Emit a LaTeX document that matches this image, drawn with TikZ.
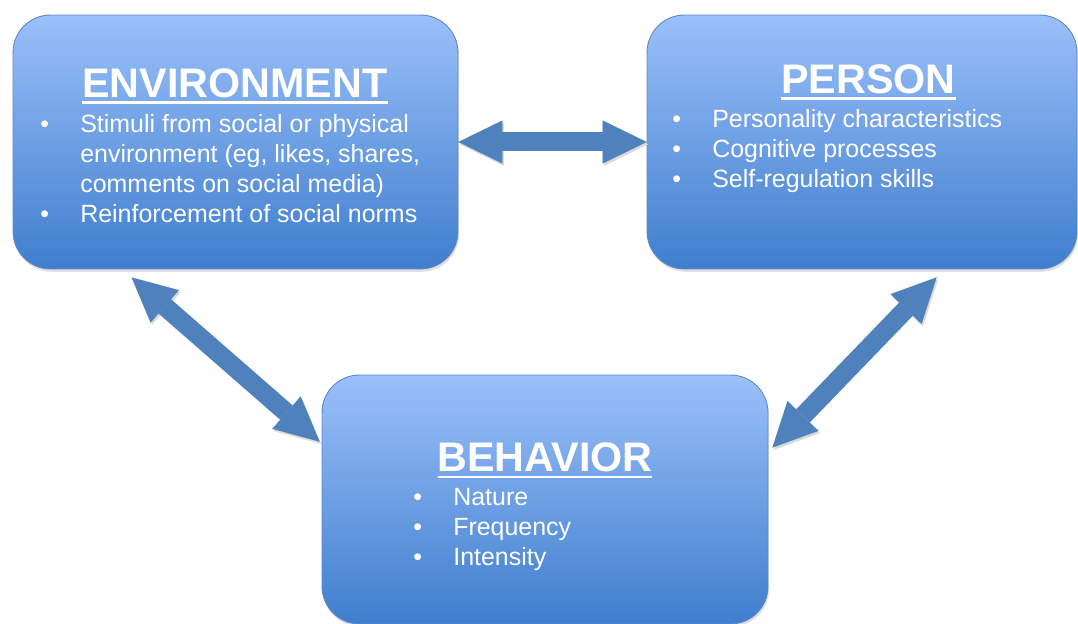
\documentclass[tikz,border=0pt]{standalone}
\usepackage{fontspec}
\setmainfont{Liberation Sans}
\usetikzlibrary{arrows.meta,shadows}

\definecolor{boxtop}{RGB}{155,192,250}
\definecolor{boxbot}{RGB}{63,126,205}
\definecolor{boxrim}{RGB}{92,136,200}
\definecolor{arrowblue}{RGB}{79,129,189}

% heading text with a thick rule under it
\newcommand\headline[1]{\setbox0\hbox{#1}\leavevmode\rlap{\rule[-3.7pt]{\wd0}{1.7pt}}\box0}

\tikzset{
  factor/.style={draw=boxrim, line width=0.5pt, rounded corners=0.75cm,
    top color=boxtop, bottom color=boxbot,
    drop shadow={opacity=0.25, shadow xshift=0.6pt, shadow yshift=-1.6pt}},
  heading/.style={text=white, font=\fontsize{23.5}{28}\selectfont\bfseries,
    inner sep=0pt, anchor=base},
  points/.style={text=white, font=\fontsize{14.2}{16.9}\selectfont,
    inner sep=0pt, anchor=base west},
  link/.style={draw=arrowblue, line width=0.38cm,
    {Triangle[width=0.86cm,length=0.88cm,line width=0.01pt]}-{Triangle[width=0.86cm,length=0.88cm,line width=0.01pt]},
    preaction={draw=black!15, transform canvas={shift={(0.8pt,-1.3pt)}}}},
}

\begin{document}
\begin{tikzpicture}[x=0.02cm, y=0.02cm]
\useasboundingbox (0,0) rectangle (1078,624);

% the three boxes
\node[factor, minimum width=8.9cm, minimum height=5.08cm] (env) at (235.5,482) {};
\node[factor, minimum width=8.6cm, minimum height=5.08cm] (per) at (862,482) {};
\node[factor, minimum width=8.92cm, minimum height=4.98cm] (beh) at (545,124.5) {};

% headings
\node[heading] (envtitle) at (235,526) {\headline{ENVIRONMENT}};
\node[heading] (pertitle) at (868.5,530) {\headline{PERSON}};
\node[heading] (behtitle) at (545,152) {\headline{BEHAVIOR}};

% bullet lists
\node[points] (envlist) at (40,491) {\begin{tabular}[t]{@{}p{0.8cm}@{}l@{}}
  \textbullet & Stimuli from social or physical\\
  & environment (eg, likes, shares,\\
  & comments on social media)\\
  \textbullet & Reinforcement of social norms
\end{tabular}};
\node[points] (perlist) at (672,496) {\begin{tabular}[t]{@{}p{0.8cm}@{}l@{}}
  \textbullet & Personality characteristics\\
  \textbullet & Cognitive processes\\
  \textbullet & Self-regulation skills
\end{tabular}};
\node[points] (behlist) at (413,118) {\begin{tabular}[t]{@{}p{0.8cm}@{}l@{}}
  \textbullet & Nature\\
  \textbullet & Frequency\\
  \textbullet & Intensity
\end{tabular}};

% ends of the slanted arrows
\coordinate (envfoot) at ([shift={(119,-8)}]env.south west);
\coordinate (behleft) at ([shift={(-2,-67)}]beh.north west);
\coordinate (perfoot) at ([shift={(290,-8)}]per.south west);
\coordinate (behright) at ([shift={(4,-73)}]beh.north east);

\draw[link] (env.east) -- (per.west);
\draw[link] (envfoot) -- (behleft);
\draw[link] (perfoot) -- (behright);
\end{tikzpicture}
\end{document}
